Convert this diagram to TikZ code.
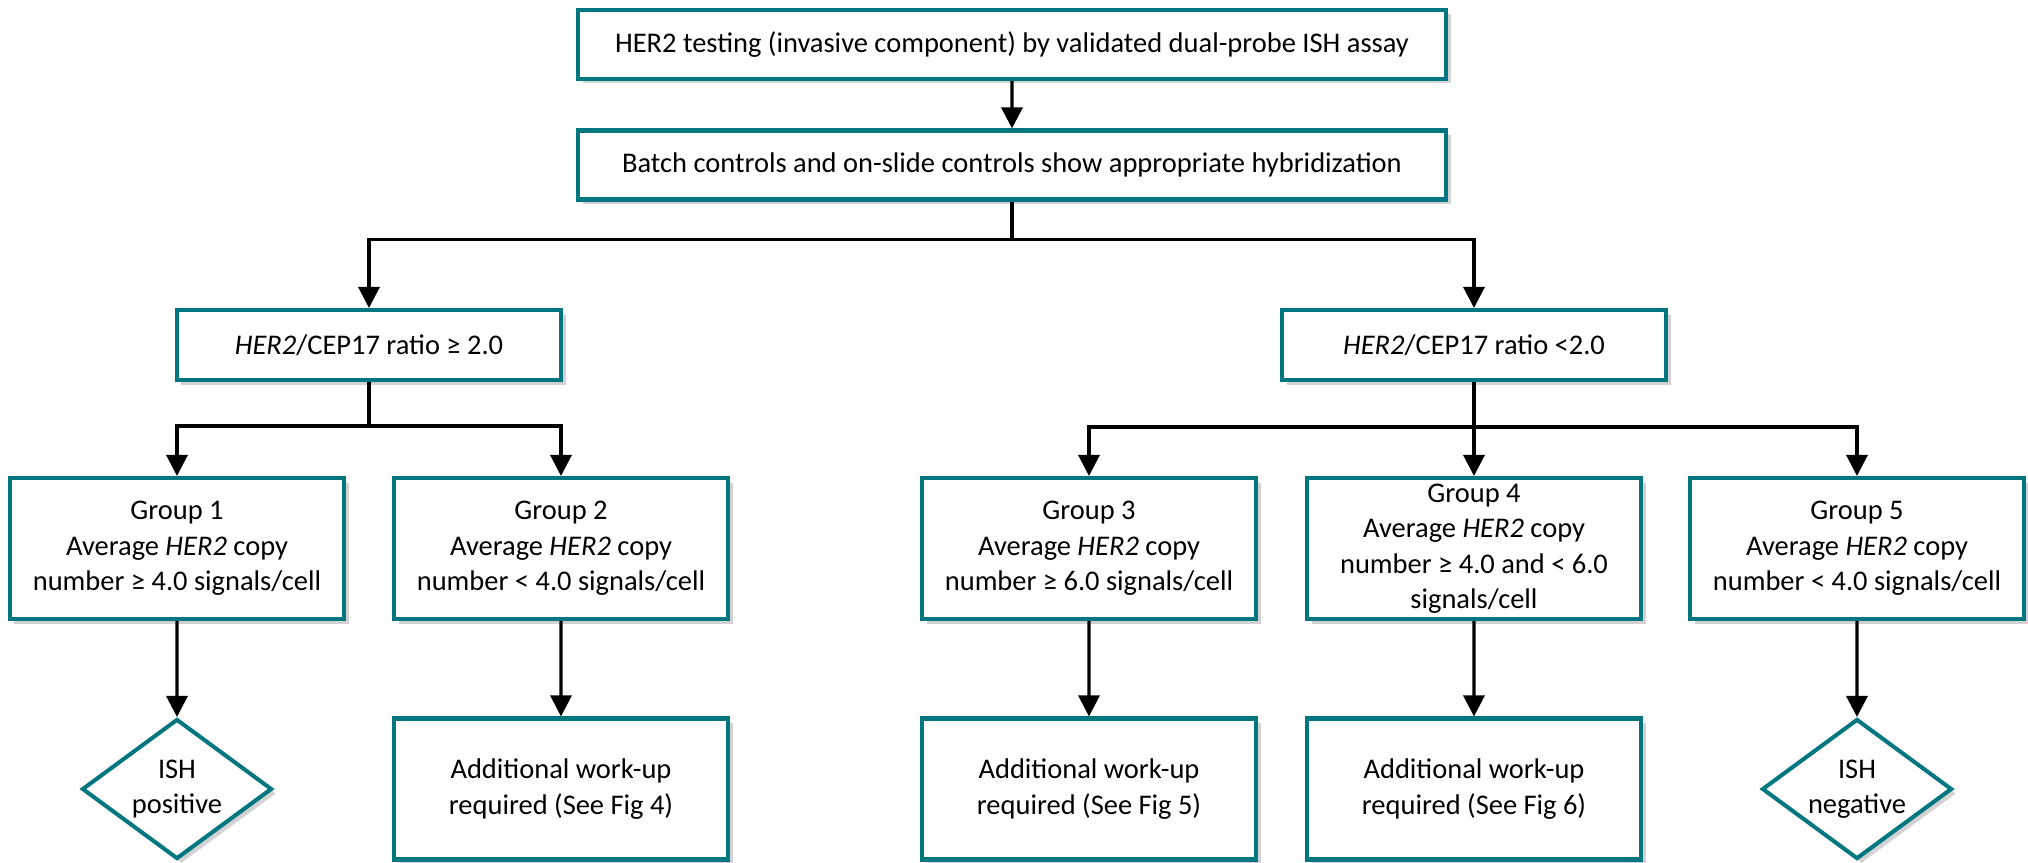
\documentclass[tikz,border=0pt]{standalone}
\usepackage{fontspec}
\setmainfont{Carlito}
\usetikzlibrary{arrows, arrows.meta}
\usetikzlibrary{positioning, shapes.geometric, shadows}
\definecolor{herteal}{RGB}{0,118,128}

\begin{document}
\begin{tikzpicture}[scale=0.2]
\tikzstyle{every node}+=[inner sep=0pt, align=center, font=\fontsize{16.2}{20.2}\selectfont]
\tikzstyle{box}=[draw=herteal, line width=2.3pt, fill=white, drop shadow={shadow xshift=0.09cm, shadow yshift=-0.09cm, opacity=0.25, fill=black!70}]
\tikzstyle{wide}=[box, minimum width=17.36cm, minimum height=1.38cm]
\tikzstyle{ratio}=[box, minimum width=7.68cm, minimum height=1.40cm]
\tikzstyle{grp}=[box, minimum width=6.68cm, minimum height=2.82cm]
\tikzstyle{call}=[box, diamond, aspect=1.35, minimum width=3.8cm, minimum height=2.8cm]
\tikzstyle{arr}=[line width=1.8pt, -{Triangle[length=0.42cm, width=0.42cm]}]
\useasboundingbox (0,0) rectangle (202.8,-86.3);
\node [wide] (test) at (101.2,-4.45) {HER2 testing (invasive component) by validated dual-probe ISH assay};
\node [wide] (ctrl) at (101.2,-16.5) {Batch controls and on-slide controls show appropriate hybridization};
\node [ratio] (hi) at (36.9,-34.5) {\textit{HER2}/CEP17 ratio ≥ 2.0};
\node [ratio] (lo) at (147.4,-34.5) {\textit{HER2}/CEP17 ratio <2.0};
\node [grp] (g1) at (17.7,-54.85) {Group 1\\Average \textit{HER2} copy\\number ≥ 4.0 signals/cell};
\node [grp] (g2) at (56.1,-54.85) {Group 2\\Average \textit{HER2} copy\\number < 4.0 signals/cell};
\node [grp] (g3) at (108.9,-54.85) {Group 3\\Average \textit{HER2} copy\\number ≥ 6.0 signals/cell};
\node [grp] (g4) at (147.4,-54.85) {Group 4\\Average \textit{HER2} copy\\number ≥ 4.0 and < 6.0\\signals/cell};
\node [grp] (g5) at (185.7,-54.85) {Group 5\\Average \textit{HER2} copy\\number < 4.0 signals/cell};
\node [call] (pos) at (17.7,-78.9) {ISH\\positive};
\node [grp] (fig4) at (56.1,-78.9) {Additional work-up\\required (See Fig 4)};
\node [grp] (fig5) at (108.9,-78.9) {Additional work-up\\required (See Fig 5)};
\node [grp] (fig6) at (147.4,-78.9) {Additional work-up\\required (See Fig 6)};
\node [call] (neg) at (185.7,-78.9) {ISH\\negative};
\draw [arr] (test) -- (ctrl);
\draw [arr] (ctrl.south) -- ++(0,-3.8) -| (hi.north);
\draw [arr] (ctrl.south) -- ++(0,-3.8) -| (lo.north);
\draw [arr] (hi.south) -- ++(0,-4.4) -| (g1.north);
\draw [arr] (hi.south) -- ++(0,-4.4) -| (g2.north);
\draw [arr] (lo.south) -- ++(0,-4.5) -| (g3.north);
\draw [arr] (lo.south) -- (g4.north);
\draw [arr] (lo.south) -- ++(0,-4.5) -| (g5.north);
\draw [arr] (g1) -- (pos);
\draw [arr] (g2) -- (fig4);
\draw [arr] (g3) -- (fig5);
\draw [arr] (g4) -- (fig6);
\draw [arr] (g5) -- (neg);
\end{tikzpicture}
\end{document}
